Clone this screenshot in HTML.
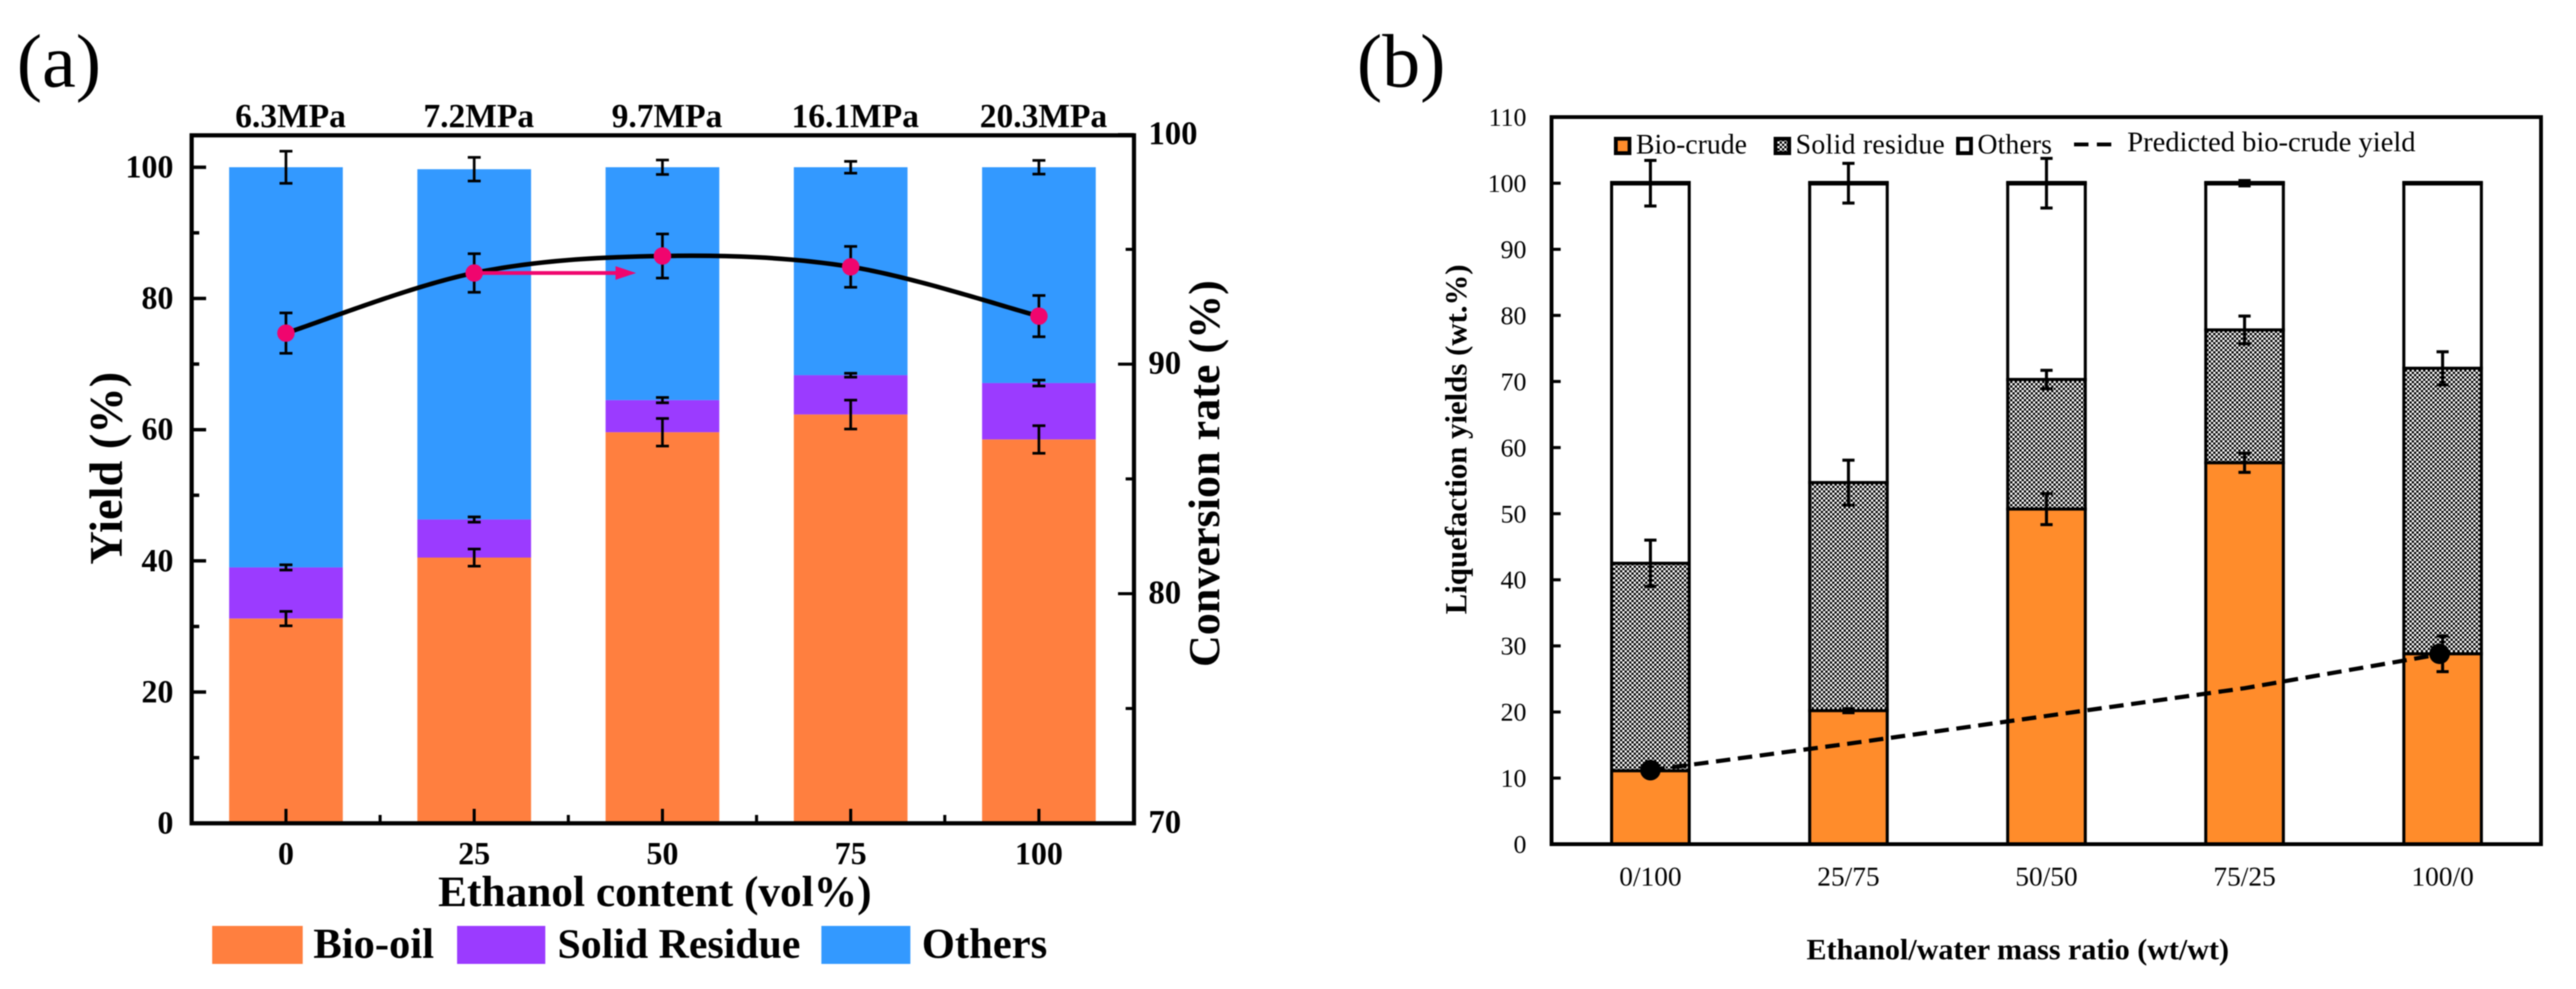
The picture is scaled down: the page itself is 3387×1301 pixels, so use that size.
<!DOCTYPE html>
<html lang="en">
<head>
<meta charset="utf-8">
<title>Liquefaction yields</title>
<style>
html,body{margin:0;padding:0;background:#fff;}
svg{display:block;filter:blur(0.7px);font-family:"Liberation Serif",serif;}
</style>
</head>
<body>
<svg id="fig" xmlns="http://www.w3.org/2000/svg" width="3387" height="1301" viewBox="0 0 3387 1301">
  <defs>
    <pattern id="dither" width="6" height="6" patternUnits="userSpaceOnUse">
      <rect width="6" height="6" fill="#fff"/>
      <rect width="3" height="3" fill="#000"/>
      <rect x="3" y="3" width="3" height="3" fill="#000"/>
    </pattern>
  </defs>
  <rect width="3387" height="1301" fill="#fff"/>

  <text x="22" y="114" font-size="100">(a)</text>
  <text x="1784" y="114" font-size="100">(b)</text>

  <g id="panelA"></g>
  <g id="panelB"></g>

  <!-- Panel a frame and titles -->
  <rect x="252" y="178" width="1239" height="905" fill="none" stroke="#000" stroke-width="5.5"/>
  <text transform="translate(160,616) rotate(-90)" text-anchor="middle" font-size="61" font-weight="bold">Yield (%)</text>
  <text transform="translate(1603,623) rotate(-90)" text-anchor="middle" font-size="58" font-weight="bold">Conversion rate (%)</text>
  <text x="861" y="1192" text-anchor="middle" font-size="57" font-weight="bold">Ethanol content (vol%)</text>

  <!-- Panel a legend -->
  <g font-size="56" font-weight="bold">
    <rect x="279" y="1218" width="119" height="50" fill="#FF7F3F"/>
    <text x="412" y="1260">Bio-oil</text>
    <rect x="601" y="1218" width="116" height="50" fill="#9B3BFF"/>
    <text x="733" y="1260" font-size="55">Solid Residue</text>
    <rect x="1080" y="1218" width="117" height="50" fill="#3399FF"/>
    <text x="1212" y="1260">Others</text>
  </g>

  <!-- Panel b frame and titles -->
  <rect x="2040" y="154" width="1301" height="956.5" fill="none" stroke="#000" stroke-width="5"/>
  <text transform="translate(1928,578) rotate(-90)" text-anchor="middle" font-size="40.5" font-weight="bold">Liquefaction yields (wt.%)</text>
  <text x="2653" y="1262" text-anchor="middle" font-size="39.5" font-weight="bold">Ethanol/water mass ratio (wt/wt)</text>

  <!-- Panel b legend -->
  <g font-size="36.5">
    <rect x="2124.5" y="182.5" width="18" height="19" fill="#FF8C2B" stroke="#000" stroke-width="5"/>
    <text x="2151" y="202">Bio-crude</text>
    <rect x="2334.5" y="182.5" width="18" height="19" fill="url(#dither)" stroke="#000" stroke-width="5"/>
    <text x="2361" y="202" textLength="196">Solid residue</text>
    <rect x="2574.5" y="182.5" width="17" height="19" fill="#fff" stroke="#000" stroke-width="5"/>
    <text x="2600" y="202" textLength="98">Others</text>
    <line x1="2727" y1="190" x2="2776" y2="190" stroke="#000" stroke-width="5" stroke-dasharray="19 11"/>
    <text x="2797" y="199" font-size="37.5">Predicted bio-crude yield</text>
  </g>
</svg>

<script>
// ---------- Panel (a) data ----------
const ethanolContent = ['0', '25', '50', '75', '100'];
const pressures = ['6.3MPa', '7.2MPa', '9.7MPa', '16.1MPa', '20.3MPa'];
const bioOil = [31.2, 40.5, 59.6, 62.3, 58.5];
const solidResidue = [7.8, 5.8, 4.9, 6.0, 8.6];
const others = [61.0, 53.4, 35.5, 31.7, 32.9];
const bioOilErr = [1.1, 1.3, 2.1, 2.2, 2.1];
const solidResidueErr = [0.4, 0.4, 0.4, 0.3, 0.45];
const othersErr = [2.45, 1.8, 1.1, 0.9, 1.05];
const conversionRate = [91.35, 93.97, 94.71, 94.24, 92.09];
const conversionErr = [0.88, 0.84, 0.96, 0.89, 0.9];
const yieldTicks = [0, 20, 40, 60, 80, 100];
const yieldMinorTicks = [10, 30, 50, 70, 90];
const conversionTicks = [70, 80, 90, 100];
const conversionMinorTicks = [75, 85, 95];

// ---------- Panel (b) data ----------
const massRatios = ['0/100', '25/75', '50/50', '75/25', '100/0'];
const bioCrude = [11.1, 20.2, 50.7, 57.7, 28.8];
const solidB = [31.4, 34.5, 19.6, 20.1, 43.2];
const othersB = [57.5, 45.3, 29.7, 22.2, 28.0];
const bioCrudeErr = [0.9, 0.3, 2.35, 1.45, 2.7];
const solidBErr = [3.5, 3.4, 1.4, 2.1, 2.5];
const othersBErr = [3.45, 3.0, 3.75, 0.4, 0.1];
const predictedYield = [11.2, 15.2, 19.4, 23.6, 28.8];
const predictedMarkers = [0, 4];
const liquefactionTicks = [0, 10, 20, 30, 40, 50, 60, 70, 80, 90, 100, 110];

// ---------- Axis functions ----------
const xA = i => 376 + 247.5 * i;
const yA = v => 1083 - 8.63 * v;
const yAR = v => 1083 - (v - 70) * 30.2;
const xB = i => 2170 + 260.4 * i;
const yB = v => 1110.5 - 8.695 * v;

const NS = 'http://www.w3.org/2000/svg';
function add(parent, tag, attrs, text) {
  const el = document.createElementNS(NS, tag);
  for (const k in attrs) el.setAttribute(k, attrs[k]);
  if (text !== undefined) el.textContent = text;
  parent.appendChild(el);
  return el;
}
const gA = document.getElementById('panelA');
const gB = document.getElementById('panelB');
let el;

// ---------- Panel (a) bars ----------
const barWA = 149.5;
ethanolContent.forEach((c, i) => {
  const left = xA(i) - barWA / 2;
  const s1 = bioOil[i], s2 = s1 + solidResidue[i], s3 = s2 + others[i];
  el = add(gA, 'rect', {x: left, y: yA(s3), width: barWA, height: yA(s2) - yA(s3), fill: '#3399FF'});
  
  
  el = add(gA, 'rect', {x: left, y: yA(s2), width: barWA, height: yA(s1) - yA(s2), fill: '#9B3BFF'});
  
  
  el = add(gA, 'rect', {x: left, y: yA(s1), width: barWA, height: yA(0) - yA(s1), fill: '#FF7F3F'});
  
  
});

function errorBar(g, x, yHi, yLo, cap, lw) {
  const group = add(g, 'g', {stroke: '#000', 'stroke-width': lw, fill: 'none'});
  add(group, 'line', {x1: x, x2: x, y1: yHi, y2: yLo});
  add(group, 'line', {x1: x - cap / 2, x2: x + cap / 2, y1: yHi, y2: yHi});
  add(group, 'line', {x1: x - cap / 2, x2: x + cap / 2, y1: yLo, y2: yLo});
  return group;
}

// Panel (a) bottom ticks and labels
ethanolContent.forEach((c, i) => {
  el = add(gA, 'line', {x1: xA(i), x2: xA(i), y1: 1083, y2: 1064, stroke: '#000', 'stroke-width': 4});
  
  
  el = add(gA, 'text', {x: xA(i), y: 1137, 'text-anchor': 'middle', 'font-size': 42, 'font-weight': 'bold'}, c);
  
  
  if (i < ethanolContent.length - 1) {
    el = add(gA, 'line', {x1: xA(i + 0.5), x2: xA(i + 0.5), y1: 1083, y2: 1072, stroke: '#000', 'stroke-width': 4});
    
    
  }
  el = add(gA, 'text', {x: xA(i) + 6, y: 167, 'text-anchor': 'middle', 'font-size': 44, 'font-weight': 'bold'}, pressures[i]);
  
  
});

// Panel (a) left axis ticks
yieldTicks.forEach(v => {
  el = add(gA, 'line', {x1: 252, x2: 271, y1: yA(v), y2: yA(v), stroke: '#000', 'stroke-width': 4.5});
  
  
  el = add(gA, 'text', {x: 228, y: yA(v) + 13.5, 'text-anchor': 'end', 'font-size': 42, 'font-weight': 'bold'}, String(v));
  
  
});
yieldMinorTicks.forEach(v => {
  el = add(gA, 'line', {x1: 252, x2: 262, y1: yA(v), y2: yA(v), stroke: '#000', 'stroke-width': 4.5});
  
  
});

// Panel (a) right axis ticks
conversionTicks.forEach(v => {
  el = add(gA, 'line', {x1: 1491, x2: 1470, y1: yAR(v), y2: yAR(v), stroke: '#000', 'stroke-width': 4});
  
  
  el = add(gA, 'text', {x: 1510, y: yAR(v) + 12.5, 'font-size': 43, 'font-weight': 'bold'}, String(v));
  
  
});
conversionMinorTicks.forEach(v => {
  el = add(gA, 'line', {x1: 1491, x2: 1480, y1: yAR(v), y2: yAR(v), stroke: '#000', 'stroke-width': 4});
  
  
});

// Panel (a) error bars
ethanolContent.forEach((c, i) => {
  const s1 = bioOil[i], s2 = s1 + solidResidue[i], s3 = s2 + others[i];
  el = errorBar(gA, xA(i), yA(s3 + othersErr[i]), yA(s3 - othersErr[i]), 17, 3.5);
  
  
  el = errorBar(gA, xA(i), yA(s2 + solidResidueErr[i]), yA(s2 - solidResidueErr[i]), 17, 3.5);
  
  
  el = errorBar(gA, xA(i), yA(s1 + bioOilErr[i]), yA(s1 - bioOilErr[i]), 17, 3.5);
  
  
  el = errorBar(gA, xA(i), yAR(conversionRate[i] + conversionErr[i]), yAR(conversionRate[i] - conversionErr[i]), 17, 3.5);
  
  
});

// Panel (a) conversion curve (Catmull-Rom through the data points)
const pts = conversionRate.map((v, i) => [xA(i), yAR(v)]);
let curve = 'M' + pts[0][0] + ' ' + pts[0][1];
for (let i = 0; i < pts.length - 1; i++) {
  const p0 = pts[Math.max(i - 1, 0)], p1 = pts[i], p2 = pts[i + 1], p3 = pts[Math.min(i + 2, pts.length - 1)];
  const c1x = p1[0] + (p2[0] - p0[0]) / 6, c1y = p1[1] + (p2[1] - p0[1]) / 6;
  const c2x = p2[0] - (p3[0] - p1[0]) / 6, c2y = p2[1] - (p3[1] - p1[1]) / 6;
  curve += ' C' + c1x + ' ' + c1y + ' ' + c2x + ' ' + c2y + ' ' + p2[0] + ' ' + p2[1];
}
el = add(gA, 'path', {d: curve, fill: 'none', stroke: '#000', 'stroke-width': 6});



// Arrow pointing toward the right axis
const arrowY = yAR(conversionRate[1]);
const arrowTip = xA(1.86);
el = add(gA, 'line', {x1: xA(1), x2: arrowTip - 22, y1: arrowY, y2: arrowY, stroke: '#F0056E', 'stroke-width': 5});


el = add(gA, 'polygon', {points: (arrowTip - 27) + ',' + (arrowY - 9) + ' ' + arrowTip + ',' + arrowY + ' ' + (arrowTip - 27) + ',' + (arrowY + 9), fill: '#F0056E'});



pts.forEach((p, i) => {
  el = add(gA, 'circle', {cx: p[0], cy: p[1], r: 11.5, fill: '#F0056E'});
  
  
});

// ---------- Panel (b) ticks ----------
liquefactionTicks.forEach(v => {
  el = add(gB, 'line', {x1: 2040, x2: 2052, y1: yB(v), y2: yB(v), stroke: '#000', 'stroke-width': 4});
  
  
  el = add(gB, 'text', {x: 2007, y: yB(v) + 11.5, 'text-anchor': 'end', 'font-size': 34}, String(v));
  
  
});

// Panel (b) bars
const barWB = 102;
massRatios.forEach((c, i) => {
  const left = xB(i) - barWB / 2;
  const s1 = bioCrude[i], s2 = s1 + solidB[i], s3 = s2 + othersB[i];
  el = add(gB, 'rect', {x: left, y: yB(s3), width: barWB, height: yB(s2) - yB(s3), fill: '#fff', stroke: '#000', 'stroke-width': 4});
  
  
  el = add(gB, 'line', {x1: left - 2, x2: left + barWB + 2, y1: yB(s3), y2: yB(s3), stroke: '#000', 'stroke-width': 6});
  
  
  el = add(gB, 'rect', {x: left, y: yB(s2), width: barWB, height: yB(s1) - yB(s2), fill: 'url(#dither)', stroke: '#000', 'stroke-width': 4});
  
  
  el = add(gB, 'rect', {x: left, y: yB(s1), width: barWB, height: yB(0) - yB(s1), fill: '#FF8C2B', stroke: '#000', 'stroke-width': 4});
  
  
  el = add(gB, 'text', {x: xB(i), y: 1165, 'text-anchor': 'middle', 'font-size': 36}, c);
  
  
});

// Panel (b) error bars
massRatios.forEach((c, i) => {
  const s1 = bioCrude[i], s2 = s1 + solidB[i], s3 = s2 + othersB[i];
  el = errorBar(gB, xB(i), yB(s3 + othersBErr[i]), yB(s3 - othersBErr[i]), 16, 4);
  
  
  el = errorBar(gB, xB(i), yB(s2 + solidBErr[i]), yB(s2 - solidBErr[i]), 16, 4);
  
  
  el = errorBar(gB, xB(i), yB(s1 + bioCrudeErr[i]), yB(s1 - bioCrudeErr[i]), 16, 4);
  
  
});

// Panel (b) predicted line and markers
const predictedPts = predictedYield.map((v, i) => xB(i) + ',' + yB(v)).join(' ');
el = add(gB, 'polyline', {points: predictedPts, fill: 'none', stroke: '#000', 'stroke-width': 5.5, 'stroke-dasharray': '19 10'});


predictedMarkers.forEach(i => {
  el = add(gB, 'circle', {cx: xB(i) - i, cy: yB(predictedYield[i]), r: 13.5, fill: '#000'});
  
  
});
</script>
</body>
</html>
